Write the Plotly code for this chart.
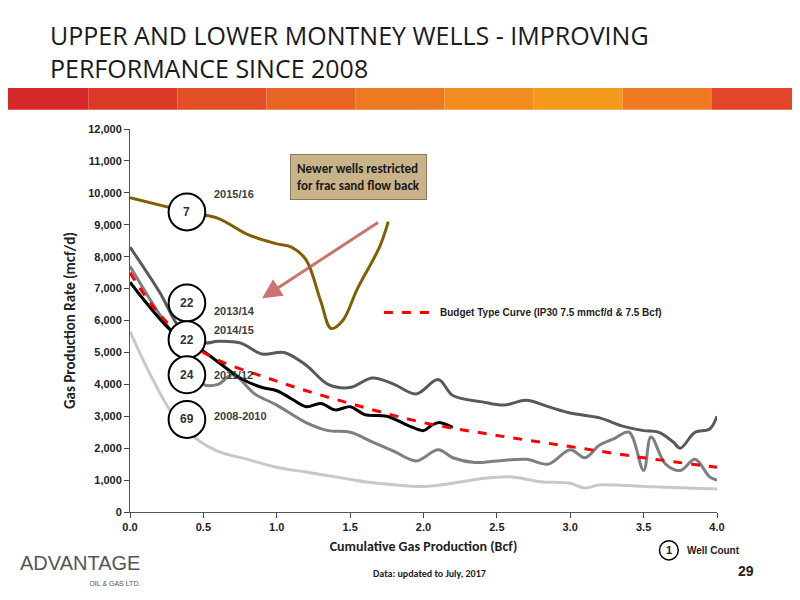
import plotly.graph_objects as go

# cumulative gas (Bcf) / rate (mcf/d)
x_1516 = [0, 0.4, 0.6, 0.8, 1.0, 1.1, 1.2, 1.3, 1.37, 1.45, 1.55, 1.7, 1.76]
y_1516 = [9850, 9400, 9200, 8700, 8400, 8300, 7900, 6600, 5750, 6000, 7000, 8300, 9100]

x_1314 = [0, 0.2, 0.35, 0.5, 0.6, 0.75, 0.9, 1.05, 1.2, 1.35, 1.5, 1.65, 1.8, 1.95, 2.1, 2.2,
          2.4, 2.55, 2.7, 2.85, 3.0, 3.2, 3.35, 3.5, 3.6, 3.7, 3.75, 3.85, 3.95, 4.0]
y_1314 = [8300, 6900, 5700, 5300, 5350, 5300, 4950, 5000, 4600, 4000, 3900, 4200, 4000, 3700, 4150, 3650,
          3450, 3350, 3500, 3300, 3100, 2950, 2700, 2550, 2500, 2200, 2000, 2500, 2600, 3000]

x_1112 = [0, 0.2, 0.35, 0.4, 0.5, 0.6, 0.7, 0.85, 1.0, 1.2, 1.35, 1.5, 1.65, 1.8, 1.95, 2.1, 2.2,
          2.35, 2.5, 2.7, 2.85, 3.0, 3.1, 3.2, 3.3, 3.4, 3.5, 3.55, 3.65, 3.75, 3.85, 3.95, 4.0]
y_1112 = [7700, 6200, 5200, 4600, 4000, 4000, 4300, 3700, 3350, 2800, 2550, 2500, 2200, 1900, 1600, 1950, 1700,
          1550, 1600, 1650, 1500, 1950, 1700, 2100, 2300, 2500, 1300, 2350, 1500, 1300, 1650, 1100, 1000]

x_1415 = [0, 0.3, 0.45, 0.6, 0.75, 0.9, 1.0, 1.1, 1.2, 1.3, 1.4, 1.5, 1.6, 1.75, 1.9, 2.0, 2.05, 2.1, 2.2]
y_1415 = [7200, 5600, 5200, 4700, 4200, 3900, 3800, 3550, 3300, 3400, 3200, 3300, 3050, 3000, 2700, 2550, 2700, 2800, 2650]

x_0810 = [0, 0.15, 0.3, 0.45, 0.6, 0.8, 1.0, 1.2, 1.4, 1.6, 1.8, 2.0, 2.2, 2.4, 2.6, 2.8, 3.0, 3.1, 3.2, 3.5, 4.0]
y_0810 = [5650, 4200, 3000, 2300, 1900, 1650, 1400, 1250, 1100, 950, 850, 800, 900, 1050, 1100, 950, 900, 750, 850, 800, 720]

x_budget = [0, 0.2, 0.5, 1.0, 1.5, 2.0, 2.5, 3.0, 3.5, 4.0]
y_budget = [7500, 6200, 5000, 4100, 3400, 2800, 2400, 2050, 1700, 1400]

# well-count labels: (count, vintage, y of circle)
labels = [("7", "2015/16", 9400), ("22", "2013/14", 6550), ("22", "2014/15", 5400),
          ("24", "2011/12", 4300), ("69", "2008-2010", 2900)]
vintage_y = [9950, 6300, 5700, 4300, 3000]

fig = go.Figure()
series = [
    (x_0810, y_0810, "#c8c8c8", "solid"),
    (x_1112, y_1112, "#7f7f7f", "solid"),
    (x_1314, y_1314, "#595959", "solid"),
    (x_1415, y_1415, "#000000", "solid"),
    (x_1516, y_1516, "#7f6000", "solid"),
    (x_budget, y_budget, "#ff0000", "dash"),
]
for xs, ys, col, dash in series:
    fig.add_trace(go.Scatter(x=xs, y=ys, mode="lines", line=dict(color=col, width=3, dash=dash, shape="spline"),
                             showlegend=False, hoverinfo="skip"))

rx, ry = 0.125, 580
for (cnt, vint, yc), vy in zip(labels, vintage_y):
    fig.add_shape(type="circle", xref="x", yref="y", x0=0.388 - rx, x1=0.388 + rx, y0=yc - ry, y1=yc + ry,
                  line=dict(color="black", width=2), fillcolor="white")
    fig.add_annotation(x=0.388, y=yc, text=f"<b>{cnt}</b>", showarrow=False, font=dict(size=12, color="#333"))
    fig.add_annotation(x=0.56, y=vy, text=f"<b>{vint}</b>", showarrow=False, xanchor="left",
                       font=dict(size=11, color="#404040"))

# banner gradient, full page width
grad = ["#d62828", "#dc3a26", "#e24f24", "#e86422", "#ee7a20", "#f28c1e", "#f39a1c", "#ef7a22", "#e4442a"]
n = len(grad)
bx0, bx1 = -0.222, 1.142
for i, c in enumerate(grad):
    fig.add_shape(type="rect", xref="paper", yref="paper", x0=bx0 + i * (bx1 - bx0) / n,
                  x1=bx0 + (i + 1) * (bx1 - bx0) / n, y0=1.05, y1=1.107, line_width=0, fillcolor=c, layer="below")

fig.add_annotation(xref="paper", yref="paper", x=-0.14, y=1.295, xanchor="left", yanchor="top", align="left",
                   text="UPPER AND LOWER MONTNEY WELLS - IMPROVING<br>PERFORMANCE SINCE 2008", showarrow=False,
                   font=dict(family="Liberation Sans Narrow, Arial Narrow, Open Sans", size=25, color="#1a1a1a"))

fig.add_annotation(xref="paper", yref="paper", x=0.272, y=0.935, xanchor="left", yanchor="top", align="left",
                   text="<b>Newer wells restricted<br>for frac sand flow back</b>", showarrow=False,
                   bgcolor="#c9b48a", bordercolor="#8a7a5a", borderwidth=1, borderpad=6,
                   font=dict(family="Calibri, Carlito, Arial", size=13, color="#1a1a1a"))
fig.add_annotation(x=0.9, y=6700, ax=1.7, ay=9100, axref="x", ayref="y", showarrow=True, text="",
                   arrowhead=2, arrowsize=1.3, arrowwidth=3, arrowcolor="#c0504d", opacity=0.8)

fig.add_shape(type="line", xref="x", yref="y", x0=1.73, x1=2.05, y0=6250, y1=6250,
              line=dict(color="#ff0000", width=3, dash="dash"))
fig.add_annotation(x=2.1, y=6250, xanchor="left", showarrow=False,
                   text="<b>Budget Type Curve (IP30 7.5 mmcf/d & 7.5 Bcf)</b>", font=dict(size=10, color="#222"))

# well count key
fig.add_shape(type="circle", xref="paper", yref="paper", x0=0.902, x1=0.934, y0=-0.075, y1=-0.125,
              line=dict(color="black", width=1.5))
fig.add_annotation(xref="paper", yref="paper", x=0.918, y=-0.1, xanchor="center", yanchor="middle",
                   text="<b>1</b>", showarrow=False, font=dict(size=11))
fig.add_annotation(xref="paper", yref="paper", x=0.945, y=-0.1, xanchor="left", yanchor="middle",
                   text="<b>Well Count</b>", showarrow=False, font=dict(size=10, color="#222"))
fig.add_annotation(xref="paper", yref="paper", x=0.51, y=-0.16, xanchor="center", yanchor="middle",
                   text="<b>Data: updated to July, 2017</b>", showarrow=False,
                   font=dict(family="Calibri, Carlito, Arial", size=10))
fig.add_annotation(xref="paper", yref="paper", x=1.05, y=-0.155, xanchor="center", yanchor="middle",
                   text="<b>29</b>", showarrow=False, font=dict(size=14))
fig.add_annotation(xref="paper", yref="paper", x=-0.19, y=-0.1, xanchor="left", yanchor="top", showarrow=False,
                   align="right",
                   text="<span style='font-size:20px'>ADVANTAGE</span><br><span style='font-size:7px'>OIL & GAS LTD.</span>",
                   font=dict(color="#555", family="Liberation Sans"))

fig.update_layout(
    width=800, height=600, paper_bgcolor="white", plot_bgcolor="white",
    margin=dict(l=122, r=91, t=121, b=96),
    font=dict(family="Arial, Liberation Sans", color="#222"),
    xaxis=dict(range=[0, 4], dtick=0.5, tickformat=".1f", showgrid=False, zeroline=False, showline=True,
               linecolor="#555", ticks="outside", tickfont=dict(size=11, weight="bold"),
               title=dict(text="<b>Cumulative Gas Production (Bcf)</b>", font=dict(family="Calibri, Carlito, Arial", size=14), standoff=8)),
    yaxis=dict(range=[0, 12000], dtick=1000, tickformat=",", showgrid=False, zeroline=False, showline=True,
               linecolor="#555", ticks="outside", tickfont=dict(size=11, weight="bold"),
               title=dict(text="<b>Gas Production Rate (mcf/d)</b>", font=dict(family="Calibri, Carlito, Arial", size=15), standoff=8)),
)
fig.write_html("out.html")
